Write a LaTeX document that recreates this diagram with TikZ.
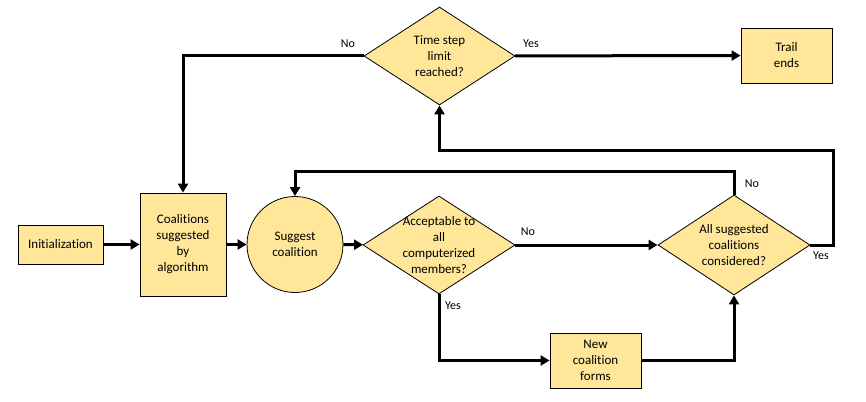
\documentclass[tikz,border=0pt]{standalone}
\usepackage{fontspec}
\setmainfont[Ligatures=NoCommon]{Carlito}
\usetikzlibrary{positioning,shapes.geometric,arrows.meta}
\definecolor{boxfill}{RGB}{255,230,153}

\begin{document}
\begin{tikzpicture}[x=1pt,y=-1pt,
        box/.style={draw,line width=0.8pt,fill=boxfill,align=center,font=\fontsize{13}{16}\selectfont},
        decision/.style={draw,line width=0.8pt,fill=boxfill,diamond,inner sep=0pt,minimum width=152pt,minimum height=98pt},
        txt/.style={align=center,font=\fontsize{13}{16}\selectfont},
        lbl/.style={font=\fontsize{12}{14}\selectfont},
        flow/.style={line width=3pt,-{Triangle[length=9pt,width=10pt]}}]
        \useasboundingbox (0,0) rectangle (866,401);
        % boxes
        \node[box,minimum width=85pt,minimum height=39pt] (init) at (60.5,244.5) {Initialization};
        \node[box,minimum width=86pt,minimum height=103pt] (algo) at (183,244.5) {Coalitions\\suggested\\by\\algorithm};
        \node[box,circle,minimum size=96pt] (suggest) at (295,244.5) {Suggest\\coalition};
        \node[decision] (accept) at (439,245) {};
        \node[txt] (accepttxt) at (accept) {Acceptable to\\all\\computerized\\members?};
        \node[decision,minimum height=100pt] (considered) at (734,245) {};
        \node[txt] (consideredtxt) at (considered) {All suggested\\coalitions\\considered?};
        \node[box,minimum width=91pt,minimum height=55pt] (newc) at (595.5,360.5) {New\\coalition\\forms};
        \node[decision,minimum width=151pt] (time) at (439.5,56) {};
        \node[txt] (timetxt) at (time) {Time step\\limit\\reached?};
        \node[box,minimum width=91pt,minimum height=55pt] (trail) at (786.5,55.5) {Trail\\ends};
        % turning points
        \coordinate (noturn) at (734,171);
        \coordinate (yesturn) at (833,150);
        % connectors
        \draw[flow] (init) -- (algo);
        \draw[flow] (algo) -- (suggest);
        \draw[flow] (suggest) -- (accept);
        \draw[flow] (accept) -- (considered);
        \draw[flow] (accept.south) |- (newc.west);
        \draw[flow] (newc.east) -| (considered.south);
        \draw[flow] (considered.north) -- (noturn) -| (suggest.north);
        \draw[flow] (considered.east) -| (yesturn) -| (time.south);
        \draw[flow] (time.west) -| (algo.north);
        \draw[flow] (time) -- (trail);
        % labels
        \node[lbl] (l1) at (348,44) {No};
        \node[lbl] (l2) at (531,44) {Yes};
        \node[lbl] (l3) at (528,232) {No};
        \node[lbl] (l4) at (453,306) {Yes};
        \node[lbl] (l5) at (752,184) {No};
        \node[lbl] (l6) at (821,256) {Yes};
    \end{tikzpicture}
\end{document}
